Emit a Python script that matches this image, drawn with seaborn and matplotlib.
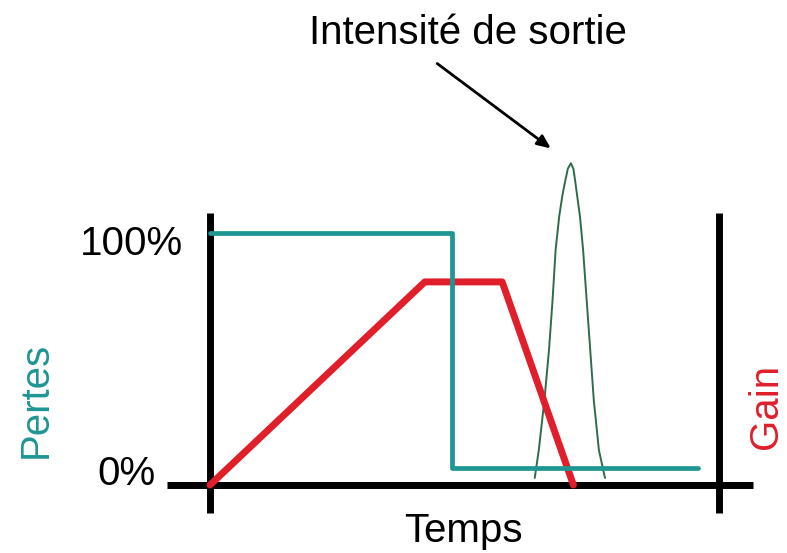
import numpy as np
import pandas as pd
import matplotlib
matplotlib.use("Agg")
import matplotlib.pyplot as plt
import seaborn as sns

# time axis: 0 = left frame, 100 = right frame ; values in %
pertes_t = [0, 47.5, 47.5, 95.9]
pertes_v = [100, 100, 6.7, 6.7]

gain_t = [0, 42.2, 57.4, 71.4]
gain_v = [0, 80.6, 80.6, 0]

# output pulse
pulse_t = [63.8, 64.6, 65.7, 66.6, 67.3, 67.9, 68.6, 69.2, 69.7, 70.3, 70.9,
           71.4, 71.8, 72.7, 73.3, 74.0, 74.7, 75.4, 76.4, 77.6]
pulse_v = [2.8, 13.9, 33.7, 53.6, 73.4, 93.3, 106.5, 114.5, 119.8, 125.5, 127.7,
           125.5, 119.8, 106.3, 93.3, 73.4, 53.6, 33.7, 13.9, 2.8]

tick_vals = [100, 0]
tick_labels = ["100%", "0%"]

TEAL = "#1e9694"
RED = "#e01f2b"
GREEN = "#2f6b4c"

sns.set_style("white")
plt.rcParams["font.family"] = ["Liberation Sans", "DejaVu Sans"]
plt.rcParams["text.color"] = "black"

fig = plt.figure(figsize=(7.87, 5.53), dpi=100)
ax = fig.add_axes([0, 0, 1, 1])
ax.set_xlim(-41.26, 113.36)
ax.set_ylim(-26.98, 192.46)
ax.axis("off")

# frame
ax.plot([0, 0], [-11.1, 107.9], color="black", lw=5, solid_capstyle="butt")
ax.plot([100, 100], [-11.1, 107.9], color="black", lw=5, solid_capstyle="butt")
ax.plot([-8.4, 106.7], [0, 0], color="black", lw=5, solid_capstyle="butt")

sns.lineplot(x=pulse_t, y=pulse_v, sort=False, estimator=None,
             color=GREEN, lw=1.4, ax=ax)
sns.lineplot(x=gain_t, y=gain_v, sort=False, estimator=None,
             color=RED, lw=5, ax=ax)
sns.lineplot(x=pertes_t, y=pertes_v, sort=False, estimator=None,
             color=TEAL, lw=3.4, ax=ax)

fs = 29
ax.text(-5.3, tick_vals[0] - 8.7, tick_labels[0], ha="right", va="baseline", fontsize=fs)
ax.text(-10.8, tick_vals[1], tick_labels[1], ha="right", va="baseline", fontsize=fs)
ax.text(49.7, -22.6, "Temps", ha="center", va="baseline", fontsize=fs)
ax.text(-34.2, 33.7, "Pertes", rotation=90, ha="center", va="center",
        fontsize=fs, color=TEAL)
# right label kept just inside the edge
ax.text(113.0, 31.3, "Gain", rotation=90, ha="right", va="center",
        fontsize=fs, color=RED)
ax.text(50.7, 175, "Intensité de sortie", ha="center", va="baseline", fontsize=fs)

ax.annotate("", xy=(67.4, 132.9), xytext=(44.2, 167.9),
            arrowprops=dict(arrowstyle="-|>,head_length=0.8,head_width=0.35",
                            color="black", lw=2))

fig.savefig("out.png", dpi=100)
